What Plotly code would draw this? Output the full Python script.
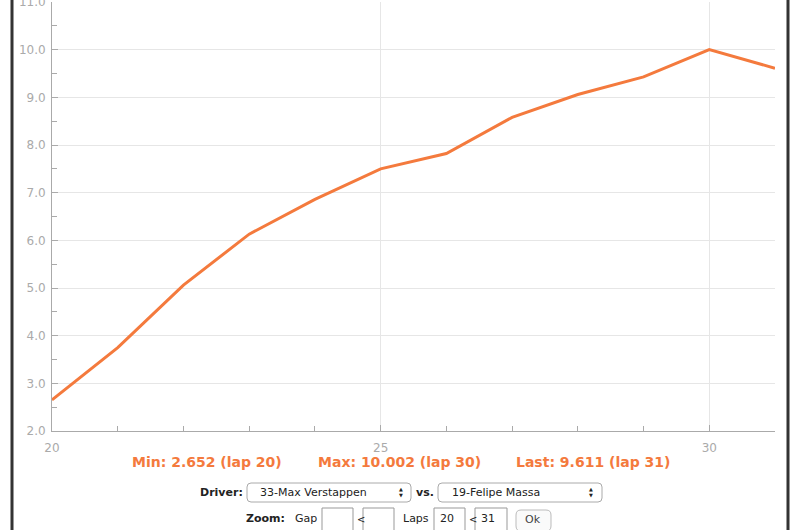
import plotly.graph_objects as go

laps = [20, 21, 22, 23, 24, 25, 26, 27, 28, 29, 30, 31]
gap = [2.652, 3.75, 5.06, 6.13, 6.86, 7.50, 7.82, 8.58, 9.06, 9.43, 10.002, 9.611]

stats_text = ["Min: 2.652 (lap 20)", "Max: 10.002 (lap 30)", "Last: 9.611 (lap 31)"]
driver_a = "33-Max Verstappen"
driver_b = "19-Felipe Massa"
lap_from = "20"
lap_to = "31"

W, H = 795, 530
L, R, T, B = 52, 775, 2, 431
ORANGE = "#F47A3D"
FONT = "DejaVu Sans"


def px(x):
    return (x - L) / (R - L)


def py(y):
    return (B - y) / (B - T)


fig = go.Figure()
fig.add_trace(go.Scatter(x=laps, y=gap, mode="lines",
                         line=dict(color=ORANGE, width=3), hoverinfo="skip"))

shapes = []
annotations = []


def text(x, y, s, size=11, bold=False, color="#222", anchor="left"):
    annotations.append(dict(x=px(x), y=py(y), xref="paper", yref="paper",
                            text=("<b>%s</b>" % s) if bold else s, showarrow=False,
                            xanchor=anchor, yanchor="middle",
                            font=dict(family=FONT, size=size, color=color)))


def rrect(x0, y0, x1, y1, r=4, color="#aaa", fill="white"):
    X0, X1 = px(x0), px(x1)
    Y0, Y1 = py(y0), py(y1)
    rx = r / (R - L)
    ry = r / (B - T)
    path = (f"M {X0+rx},{Y0} L {X1-rx},{Y0} Q {X1},{Y0} {X1},{Y0-ry} "
            f"L {X1},{Y1+ry} Q {X1},{Y1} {X1-rx},{Y1} L {X0+rx},{Y1} "
            f"Q {X0},{Y1} {X0},{Y1+ry} L {X0},{Y0-ry} Q {X0},{Y0} {X0+rx},{Y0} Z")
    shapes.append(dict(type="path", path=path, xref="paper", yref="paper",
                       line=dict(color=color, width=1), fillcolor=fill))


def box(x0, y0, x1, y1, color="#999"):
    shapes.append(dict(type="rect", xref="paper", yref="paper",
                       x0=px(x0), x1=px(x1), y0=py(y1), y1=py(y0),
                       line=dict(color=color, width=1), fillcolor="white"))


# page border lines
for bx in (12, 788):
    shapes.append(dict(type="line", xref="paper", yref="paper",
                       x0=px(bx), x1=px(bx), y0=py(H), y1=py(0),
                       line=dict(color="#333", width=3)))

# stats
for s, cx in zip(stats_text, (207, 399, 593)):
    text(cx, 462, s, size=14, bold=True, color=ORANGE, anchor="center")

# driver row
text(198, 492, "Driver:", bold=True)
rrect(247, 483, 411, 502)
text(258, 492, driver_a)
text(401, 489, "▲", size=5, anchor="center")
text(401, 495, "▼", size=5, anchor="center")
text(414, 492, "vs.", bold=True)
rrect(438, 483, 602, 502)
text(450, 492, driver_b)
text(591, 489, "▲", size=5, anchor="center")
text(591, 495, "▼", size=5, anchor="center")

# zoom row
text(244, 518, "Zoom:", bold=True)
text(293, 518, "Gap")
box(322, 508, 353, 531)
text(355, 519, "<", size=10)
box(363, 508, 394, 531)
text(401, 518, "Laps")
box(434, 508, 465, 531)
text(438, 518, lap_from)
text(467, 519, "<", size=10)
box(475, 508, 507, 531)
text(479, 518, lap_to)
rrect(516, 510, 551, 531, r=5, color="#bbb", fill="#fafafa")
text(533, 519, "Ok", color="#444", anchor="center")

fig.update_layout(
    width=W, height=H,
    margin=dict(l=L, r=W - R, t=T, b=H - B, autoexpand=False),
    paper_bgcolor="white", plot_bgcolor="white",
    showlegend=False,
    shapes=shapes, annotations=annotations,
    xaxis=dict(range=[20, 31], dtick=5, tick0=20, showgrid=True, gridcolor="#e6e6e6",
               zeroline=False, showline=True, linecolor="#aaa", linewidth=1,
               ticks="inside", ticklen=6, tickcolor="#aaa", ticklabelstandoff=6,
               ticklabeloverflow="allow", automargin=False,
               minor=dict(dtick=1, ticks="inside", ticklen=5, tickcolor="#aaa", showgrid=False),
               tickfont=dict(family=FONT, size=12, color="#aaa")),
    yaxis=dict(range=[2, 11.0001], dtick=1, tick0=2, tickformat=".1f", showgrid=True,
               gridcolor="#e6e6e6", zeroline=False, showline=True, linecolor="#aaa",
               linewidth=1, ticks="inside", ticklen=6, tickcolor="#aaa", ticklabelstandoff=3,
               ticklabeloverflow="allow", automargin=False,
               minor=dict(dtick=0.5, ticks="inside", ticklen=5, tickcolor="#aaa", showgrid=False),
               tickfont=dict(family=FONT, size=12, color="#aaa")),
)

fig.write_html("out.html", config={"displayModeBar": False},
               post_script="document.body.style.margin='0';document.body.style.overflow='hidden';")
